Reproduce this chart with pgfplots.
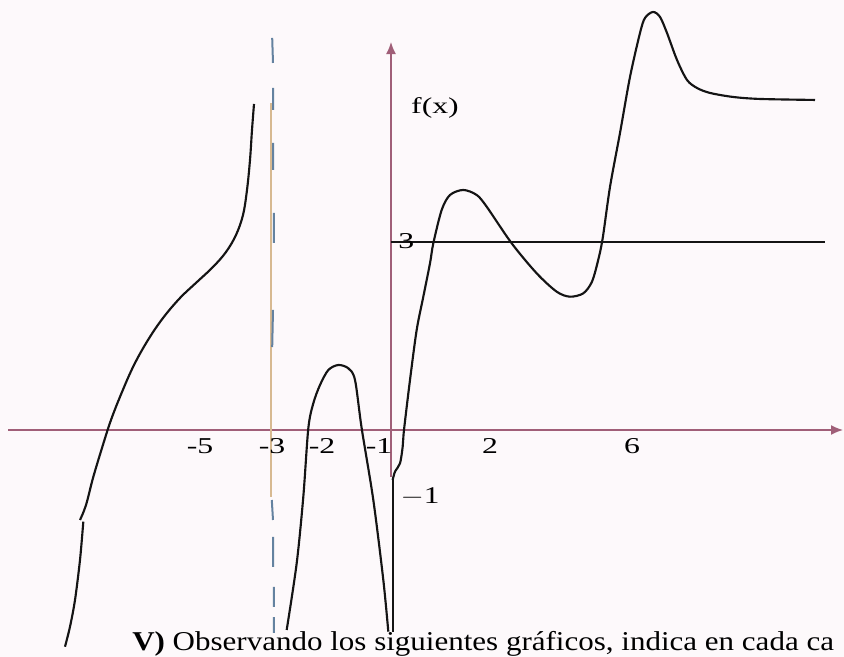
\documentclass[border=0pt]{standalone}
\usepackage{graphicx}
\usepackage{pgfplots}
\pgfplotsset{compat=1.18}
\usepackage{fontspec}
\setmainfont{Liberation Serif}
\usetikzlibrary{arrows.meta}

\definecolor{bgpaper}{RGB}{253,249,251}
\definecolor{axiscol}{RGB}{160,95,120}
\definecolor{asym}{RGB}{215,185,145}
\definecolor{dashblue}{RGB}{100,130,160}
\definecolor{ink}{RGB}{20,20,20}

% wide-set label text
\newcommand{\lbl}[1]{\scalebox{1.4}[1]{#1}}

\begin{document}
\begin{tikzpicture}
\clip (0,0) rectangle (633pt,492.75pt);
\fill[bgpaper] (0,0) rectangle (633pt,492.75pt);
\begin{axis}[
  at={(0pt,0pt)}, anchor=south west,
  scale only axis, width=633pt, height=492.75pt,
  xmin=-9.775, xmax=11.325, ymin=-3.622, ymax=6.861,
  hide axis, clip=false,
]
% coordinate axes
\addplot[axiscol, line width=1.1pt, -{Latex[length=9pt,width=7.5pt]}]
  coordinates {(-9.575,0) (11.3,0)};
\addplot[axiscol, line width=1.1pt, -{Latex[length=9pt,width=7.5pt]}]
  coordinates {(0,-0.75) (0,6.19)};

% vertical asymptote x = -3
\addplot[asym, line width=0.9pt] coordinates {(-3.0,-1.069) (-3.0,5.218)};
\addplot[dashblue, line width=1.5pt, unbounded coords=jump] coordinates {
  (-2.97,6.255) (-2.95,5.856) (-2.95,nan)
  (-2.95,5.457) (-2.95,5.106) (-2.95,nan)
  (-2.95,4.580) (-2.95,4.149) (-2.95,nan)
  (-2.93,3.463) (-2.93,2.984) (-2.93,nan)
  (-2.95,1.915) (-2.97,1.324) (-2.95,nan)
  (-2.98,-1.117) (-2.95,-1.436) (-2.95,nan)
  (-2.95,-1.707) (-2.95,-2.186) (-2.95,nan)
  (-2.93,-2.505) (-2.93,-2.824) (-2.93,nan)
  (-2.93,-2.984) (-2.93,-3.239)
};

% horizontal asymptote y = 3
\addplot[ink, line width=1.4pt] coordinates {(0,3) (10.85,3)};

% branch left of x = -3
\addplot[ink, line width=1.6pt, smooth, tension=0.6] coordinates {
  (-3.425,5.202) (-3.475,4.787) (-3.525,4.309) (-3.6,3.830) (-3.7,3.431)
  (-3.875,3.112) (-4.125,2.840) (-4.45,2.601) (-4.85,2.362) (-5.275,2.106)
  (-5.7,1.787) (-6.075,1.436) (-6.425,1.037) (-6.725,0.606) (-7.0,0.160)
  (-7.225,-0.287) (-7.45,-0.766) (-7.625,-1.197) (-7.775,-1.436)
};
\addplot[ink, line width=1.6pt, smooth, tension=0.5] coordinates {
  (-7.692,-1.463) (-7.775,-2.074) (-7.9,-2.713) (-8.025,-3.139) (-8.15,-3.458)
};

% arch between x = -3 and x = -1
\addplot[ink, line width=1.6pt, smooth, tension=0.5] coordinates {
  (-2.608,-3.191) (-2.358,-2.128) (-2.192,-1.064) (-2.067,0.027) (-1.942,0.426)
  (-1.775,0.718) (-1.567,0.957) (-1.317,1.037) (-1.067,0.984) (-0.9,0.798)
  (-0.733,0.027) (-0.442,-1.117) (-0.192,-2.394) (-0.067,-3.218)
};

% jump at x = -1 and the branch to the right
\addplot[ink, line width=1.6pt] coordinates {(0.042,-3.218) (0.042,-0.798)};
\addplot[ink, line width=1.6pt, smooth, tension=0.5] coordinates {
  (0.042,-0.798) (0.1,-0.665) (0.225,-0.532) (0.292,-0.266) (0.325,0)
  (0.475,0.798) (0.642,1.596) (0.808,2.127) (0.975,2.66) (1.058,2.979)
  (1.267,3.511) (1.475,3.75) (1.808,3.83) (2.142,3.75) (2.392,3.563)
  (3.017,2.979) (3.642,2.5) (4.142,2.207) (4.475,2.127) (4.808,2.181)
  (5.02,2.36) (5.16,2.66) (5.29,3.05) (5.475,3.878) (5.725,4.739) (5.975,5.633)
  (6.225,6.335) (6.35,6.575) (6.55,6.670) (6.725,6.591) (6.9,6.335)
  (7.15,5.904) (7.4,5.585) (7.65,5.457) (7.975,5.378) (8.55,5.314)
  (9.225,5.282) (10.6,5.266)
};

% labels
\node[font=\fontsize{17}{20}\selectfont] at (axis cs:-4.775,-0.255) {\lbl{-5}};
\node[font=\fontsize{17}{20}\selectfont] at (axis cs:-2.975,-0.255) {\lbl{-3}};
\node[font=\fontsize{17}{20}\selectfont] at (axis cs:-1.725,-0.255) {\lbl{-2}};
\node[font=\fontsize{17}{20}\selectfont] at (axis cs:-0.3,-0.255) {\lbl{-1}};
\node[font=\fontsize{17}{20}\selectfont] at (axis cs:2.475,-0.255) {\lbl{2}};
\node[font=\fontsize{17}{20}\selectfont] at (axis cs:6.025,-0.255) {\lbl{6}};
\node[font=\fontsize{17}{20}\selectfont] at (axis cs:0.38,3.016) {\lbl{3}};
\node[font=\fontsize{17}{20}\selectfont] at (axis cs:1.1,5.138) {\lbl{f(x)}};
\node[font=\fontsize{18}{20}\selectfont] at (axis cs:0.725,-1.069) {\scalebox{1.3}[1]{$-$1}};
\node[anchor=base west, font=\fontsize{20.4}{24}\selectfont, inner sep=0pt]
  at (axis cs:-6.475,-3.511)
  {\scalebox{1.14}[1]{\textbf{V)} Observando los siguientes gráficos, indica en cada ca}};
\end{axis}
\end{tikzpicture}
\end{document}
